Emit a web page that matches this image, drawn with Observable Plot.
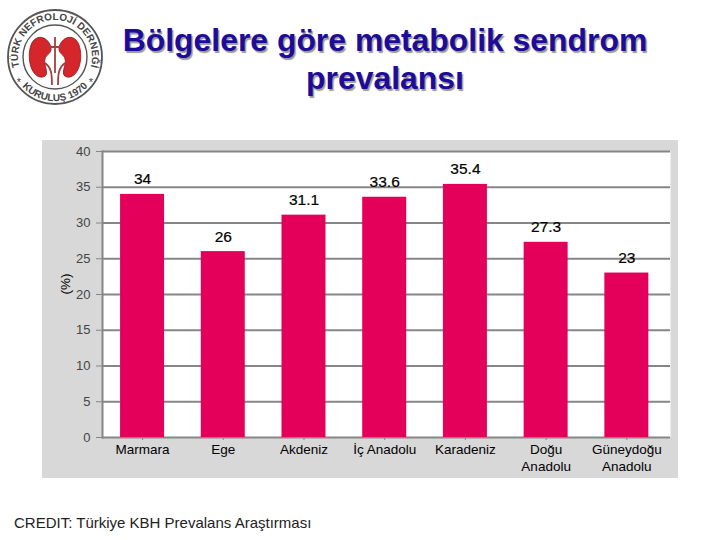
<!DOCTYPE html>
<html lang="tr">
<head>
<meta charset="utf-8">
<script src="https://cdn.jsdelivr.net/npm/d3@7"></script>
<script src="https://cdn.jsdelivr.net/npm/@observablehq/plot@0.6"></script>
<style>
html,body{margin:0;padding:0;background:#fff;}
body{width:720px;height:540px;position:relative;overflow:hidden;font-family:"Liberation Sans",Arial,sans-serif;}
#panel{position:absolute;left:42px;top:140px;width:636px;height:338px;background:#d8d8d8;}
#plotwrap{position:absolute;left:0;top:0;}
#plotwrap svg{display:block;background:transparent;}
#title{position:absolute;left:85px;top:21px;width:600px;text-align:center;font-weight:bold;font-size:31.9px;line-height:38px;color:#1d0b99;text-shadow:1.5px 1.5px 1px #999;}
#caption{position:absolute;left:14px;top:515px;font-size:15px;line-height:16px;color:#222;white-space:nowrap;}
#logo{position:absolute;left:5px;top:7px;}
</style>
</head>
<body>
<svg id="logo" width="100" height="100" viewBox="0 0 100 100">
  <defs>
    <path id="arcTop" d="M14.4 60 A37 37 0 1 1 85.6 60"/>
    <path id="arcBot" d="M8.6 65 A44 44 0 0 0 91.4 65"/>
  </defs>
  <circle cx="50" cy="50" r="47" fill="#fff" stroke="#555" stroke-width="1.8"/>
  <circle cx="50" cy="50" r="32" fill="#fff" stroke="#555" stroke-width="1.4"/>
  <text font-family="Liberation Sans" font-weight="bold" font-size="10" fill="#444"><textPath href="#arcTop" startOffset="50%" text-anchor="middle">TÜRK NEFROLOJİ DERNEĞİ</textPath></text>
  <text font-family="Liberation Sans" font-weight="bold" font-size="10" fill="#444"><textPath href="#arcBot" startOffset="50%" text-anchor="middle">KURULUŞ 1970</textPath></text>
  <text x="14" y="79" font-family="Liberation Sans" font-size="11" fill="#444" text-anchor="middle">*</text>
  <text x="86" y="79" font-family="Liberation Sans" font-size="11" fill="#444" text-anchor="middle">*</text>
  <path d="M46 40 C42 28 30 27 26 38 C21 52 27 72 38 70 C46 68 38 58 40 52 C41 47 47 47 46 40Z" fill="#d5262b" stroke="#8c1c1c" stroke-width="0.8"/>
  <path d="M54 40 C58 28 70 27 74 38 C79 52 73 72 62 70 C54 68 62 58 60 52 C59 47 53 47 54 40Z" fill="#d5262b" stroke="#8c1c1c" stroke-width="0.8"/>
  <path d="M50 30 V66 M43 40 H57 M40 56 C46 60 47 66 47 78 M60 56 C54 60 53 66 53 78" fill="none" stroke="#a04040" stroke-width="1.8"/>
</svg>
<div id="panel"></div>
<div id="title">Bölgelere göre metabolik sendrom<br>prevalansı</div>
<div id="plotwrap"></div>
<div id="caption">CREDIT: Türkiye KBH Prevalans Araştırması</div>
<script>
const regions = ["Marmara","Ege","Akdeniz","İç Anadolu","Karadeniz","Doğu\nAnadolu","Güneydoğu\nAnadolu"];
const prevalence = [34,26,31.1,33.6,35.4,27.3,23];
const yTicks = [0,5,10,15,20,25,30,35,40];
const rows = regions.map((region,i)=>({region,value:prevalence[i]}));

const chart = Plot.plot({
  width:720,height:540,
  marginLeft:102,marginRight:50,marginTop:151,marginBottom:103,
  style:{background:"transparent",fontFamily:"'Liberation Sans',Arial,sans-serif",overflow:"visible"},
  x:{domain:regions,range:[101.7,666.7],round:false,paddingInner:0.455,paddingOuter:0.2275,align:0.5},
  y:{domain:[0,40]},
  marks:[
    Plot.frame({fill:"#fff",stroke:null}),
    Plot.gridY(yTicks,{stroke:"#868686",strokeOpacity:1,strokeWidth:2}),
    Plot.frame({anchor:"left",stroke:"#868686",strokeWidth:2,strokeOpacity:1}),
    Plot.axisY({ticks:yTicks,tickSize:6,tickPadding:6,stroke:"#868686",fill:"#444",fontSize:13,label:null}),
    Plot.text(["(%)"],{frameAnchor:"left",dx:-37,rotate:-90,fill:"#000",fontSize:13.5,text:d=>d}),
    Plot.axisX({tickSize:3,tickPadding:2,stroke:"#868686",fill:"#000",fontSize:13.5,label:null,lineHeight:1.25}),
    Plot.barY(rows,{x:"region",y:"value",fill:"#e4005a"}),
    Plot.text(rows,{x:"region",y:"value",text:d=>String(d.value),dy:-15,fill:"#000",fontSize:15.5,stroke:"#000",strokeWidth:0.2})
  ]
});
document.getElementById("plotwrap").appendChild(chart);
</script>
</body>
</html>
